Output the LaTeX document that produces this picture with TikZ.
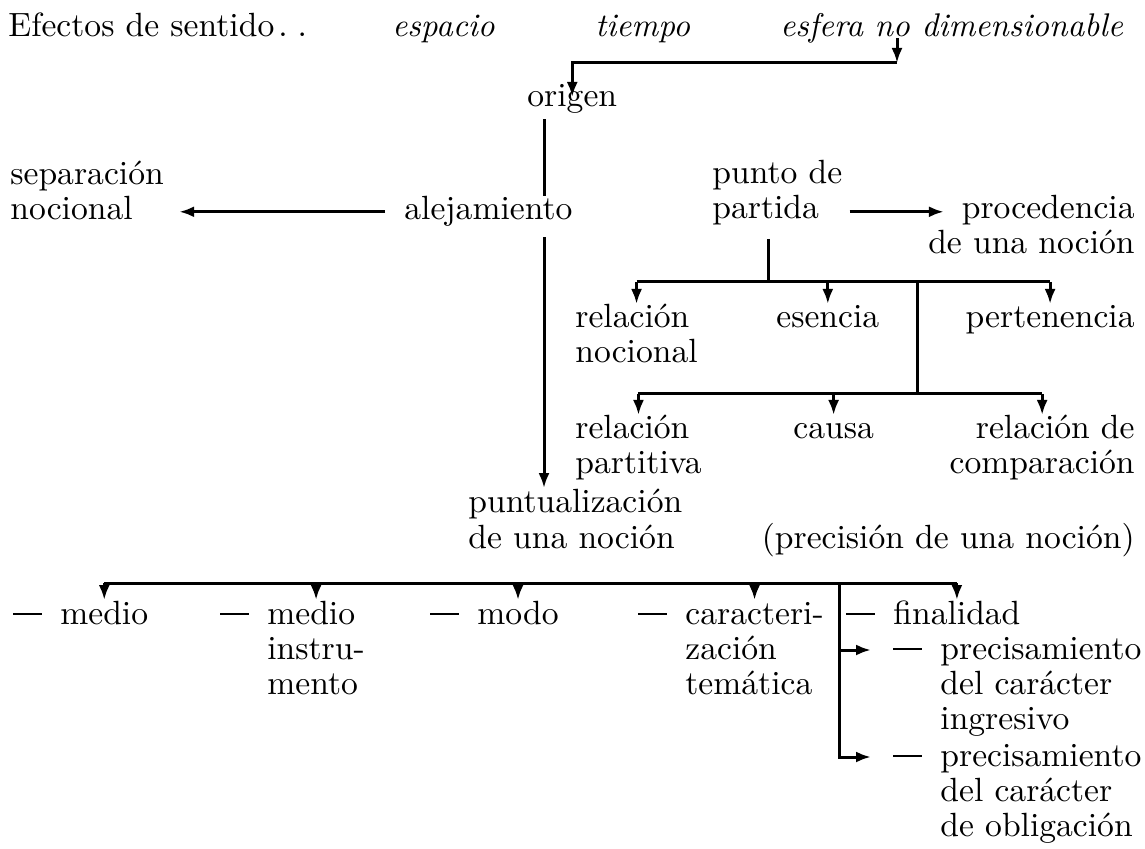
\documentclass[tikz,border=0pt]{standalone}
\usepackage{fontspec}
\setmainfont{lmroman10-regular.otf}[ItalicFont=lmroman10-italic.otf]
\usetikzlibrary{arrows.meta,calc}
\newcommand{\raya}{\llap{\rule[0.26em]{0.85em}{1.2pt}\hspace{0.55em}}}
\newcommand{\lineas}[2][l]{\begin{tabular}[t]{@{}#1@{}}#2\end{tabular}}
\begin{document}
\begin{tikzpicture}[x=0.5pt,y=-0.5pt,
  texto/.style={inner sep=0pt,font=\fontsize{16.8}{17.5}\selectfont,anchor=base west},
  derecha/.style={anchor=base east},
  cursiva/.style={font=\fontsize{16.4}{17.5}\selectfont\itshape},
  conector/.style={line width=1.5pt},
  flecha/.style={conector,-{Latex[length=7.5pt,width=5.5pt]}},
  baja/.style={flecha,shorten >=12pt}]
  \useasboundingbox (0,0) rectangle (1145,849);
  \node[texto] (efectos) at (8,37) {Efectos de sentido\kern2pt.\kern5pt.};
  \node[texto,cursiva] (espacio) at (392,37) {espacio};
  \node[texto,cursiva] (tiempo) at (595,37) {tiempo};
  \node[texto,cursiva] (esfera) at (780,37) {esfera no dimensionable};
  \node[texto] (origen) at (527,107) {origen};
  \node[texto] (separacion) at (10,185) {\lineas{separación\\nocional}};
  \node[texto] (alejamiento) at (404,220) {alejamiento};
  \node[texto] (partida) at (712,184) {\lineas{punto de\\partida}};
  \node[texto,derecha] (procedencia) at (1135,219) {\lineas[r]{procedencia\\de una noción}};
  \node[texto] (relnoc) at (575,328) {\lineas{relación\\nocional}};
  \node[texto] (esencia) at (776,328) {esencia};
  \node[texto,derecha] (pertenencia) at (1135,328) {pertenencia};
  \node[texto] (relpart) at (575,439) {\lineas{relación\\partitiva}};
  \node[texto] (causa) at (793,439) {causa};
  \node[texto,derecha] (relcomp) at (1135,439) {\lineas[r]{relación de\\comparación}};
  \node[texto] (puntual) at (468,513) {\lineas{puntualización\\de una noción}};
  \node[texto,derecha] (precision) at (1135,548) {(precisión de una noción)};
  \node[texto] (medio) at (60,624) {\raya medio};
  \node[texto] (instrumento) at (267,624) {\lineas{\raya medio\\instru-\\mento}};
  \node[texto] (modo) at (477,624) {\raya modo};
  \node[texto] (caracterizacion) at (685,624) {\lineas{\raya caracteri-\\zación\\temática}};
  \node[texto] (finalidad) at (893,624) {\raya finalidad};
  \node[texto] (ingresivo) at (940,659) {\lineas{\raya precisamiento\\del carácter\\ingresivo}};
  \node[texto] (obligacion) at (940,766) {\lineas{\raya precisamiento\\del carácter\\de obligación}};

  \coordinate (no) at (897,38);
  \coordinate (codo) at (897,63);
  \coordinate (eje) at (544,0);
  \coordinate (rama1) at (768,282);
  \coordinate (rama2) at (917,394);
  \coordinate (rama3) at (839,583);
  \coordinate (p1) at ($(ingresivo.base west)+(-69,-9)$);
  \coordinate (p2) at ($(obligacion.base west)+(-69,-9)$);

  \draw[flecha] (no) -- (codo);
  \draw[flecha,shorten >=5pt] (codo) -- (codo -| origen.base) -- (origen.base);
  \draw[conector,shorten <=2.5pt] (eje |- origen.south) -- (eje |- alejamiento.north);
  \draw[flecha,shorten <=5pt] (eje |- alejamiento.south) -- (eje |- puntual.north);
  \draw[flecha,shorten <=9.5pt,shorten >=7.5pt] (alejamiento.west) -- (alejamiento.west -| separacion.east);
  \draw[flecha,shorten <=3.5pt,shorten >=-8pt] (partida.east |- alejamiento.west) -- (procedencia.west |- alejamiento.west);

  \draw[conector,shorten <=4.5pt] (rama1 |- partida.south) -- (rama1);
  \draw[conector] (rama1 -| relnoc.base) -- (rama1 -| pertenencia.base);
  \foreach \n in {relnoc,esencia,pertenencia}
    \draw[baja] (rama1 -| \n.base) -- (\n.base);
  \draw[conector] (rama1 -| rama2) -- (rama2);
  \draw[conector] (rama2 -| relpart.base) -- (rama2 -| relcomp.base);
  \foreach \n in {relpart,causa,relcomp}
    \draw[baja] (rama2 -| \n.base) -- (\n.base);

  \draw[conector] (rama3 -| medio.base) -- (rama3 -| finalidad.base);
  \foreach \n in {medio,instrumento,modo,caracterizacion,finalidad}
    \draw[baja] (rama3 -| \n.base) -- (\n.base);
  \draw[flecha] (rama3) |- (p2);
  \draw[flecha] (rama3 |- p1) -- (p1);
\end{tikzpicture}
\end{document}
